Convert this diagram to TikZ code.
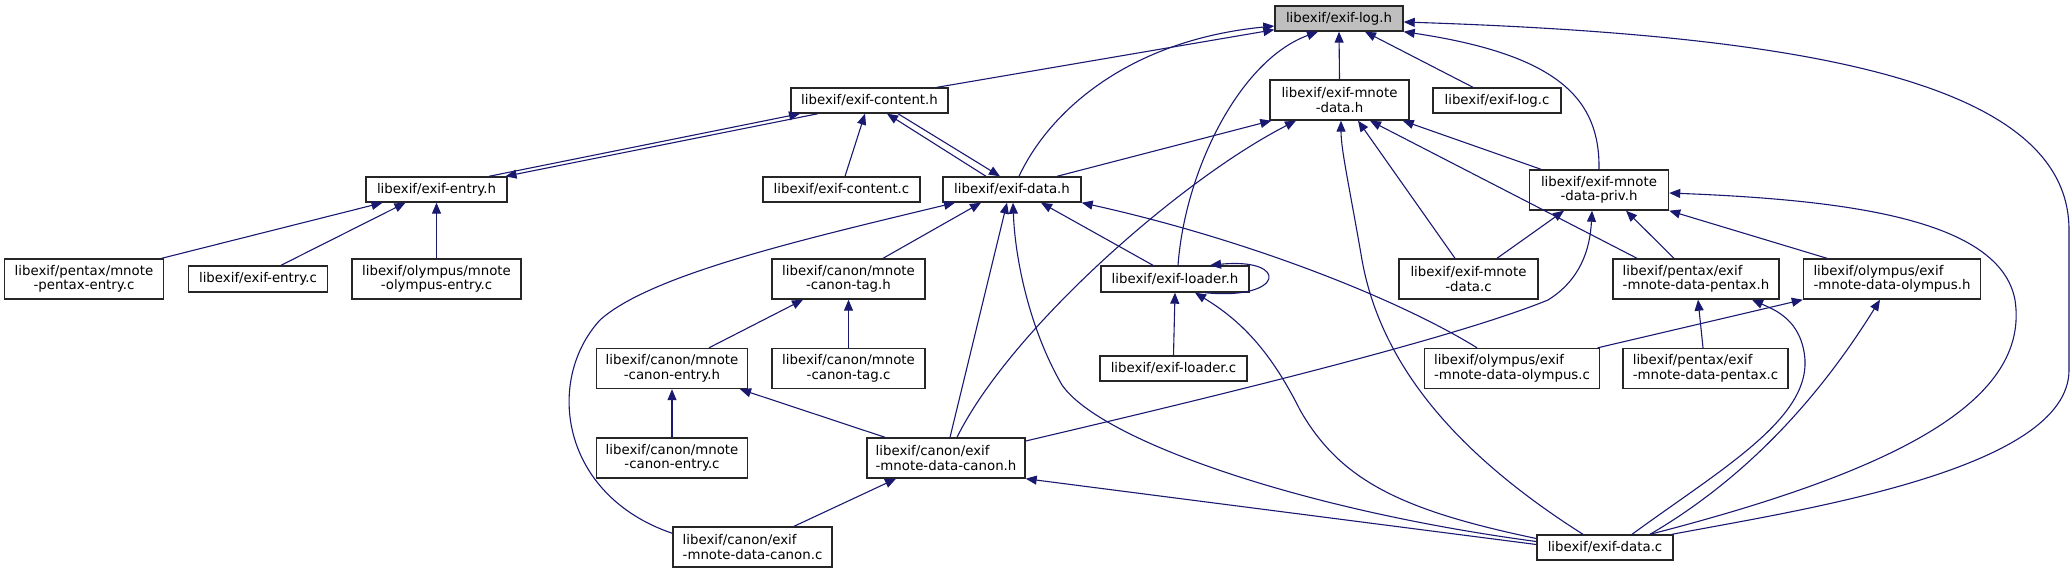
\documentclass[tikz,border=0pt]{standalone}
\usepackage{fontspec}
\setmainfont{DejaVu Sans}
\usepackage{tikz}
\usetikzlibrary{arrows.meta}

\definecolor{edgeblue}{HTML}{191970}
\definecolor{rootgray}{HTML}{BFBFBF}
\tikzset{
    file/.style={draw=black!85, fill=white, line width=1.4pt, inner sep=0pt,
        minimum height=25pt, font=\fontsize{13.33}{14.5}\selectfont},
    filec/.style={file, minimum height=40pt, align=center},
    filel/.style={file, minimum height=40pt, align=left},
    incl/.style={draw=edgeblue, line width=1.1pt, -{Triangle[length=11pt,width=9pt]}}
}

\begin{document}
\begin{tikzpicture}[x=1pt, y=-1pt]
    \useasboundingbox (0,0) rectangle (2071,573);
    \node[file, fill=rootgray, minimum width=128pt] (log_h) at (1339,18.5) {libexif/exif-log.h};
    \node[file, minimum width=157pt] (content_h) at (869.5,100.5) {libexif/exif-content.h};
    \node[filec, minimum width=139pt] (mnote_h) at (1339.5,100) {libexif/exif-mnote\\-data.h};
    \node[file, minimum width=128pt] (log_c) at (1497,100.5) {libexif/exif-log.c};
    \node[file, minimum width=141pt] (entry_h) at (436.5,189.5) {libexif/exif-entry.h};
    \node[file, minimum width=157pt] (content_c) at (841.5,189.5) {libexif/exif-content.c};
    \node[file, minimum width=138pt] (data_h) at (1012,189.5) {libexif/exif-data.h};
    \node[filec, minimum width=139pt] (priv_h) at (1599,190) {libexif/exif-mnote\\-data-priv.h};
    \node[filec, minimum width=159pt] (pentaxentry_c) at (84,279) {libexif/pentax/mnote\\-pentax-entry.c};
    \node[file, minimum width=139pt, minimum height=26pt] (entry_c) at (258,279) {libexif/exif-entry.c};
    \node[filec, minimum width=169pt] (olympusentry_c) at (436.5,279) {libexif/olympus/mnote\\-olympus-entry.c};
    \node[filec, minimum width=153pt] (canontag_h) at (848.5,279) {libexif/canon/mnote\\-canon-tag.h};
    \node[file, minimum width=148pt, minimum height=26pt] (loader_h) at (1175,279) {libexif/exif-loader.h};
    \node[filec, minimum width=139pt] (mnote_c) at (1468.5,279) {libexif/exif-mnote\\-data.c};
    \node[filel, minimum width=166pt] (pentax_h) at (1696,279) {libexif/pentax/exif\\-mnote-data-pentax.h};
    \node[filel, minimum width=177pt] (olympus_h) at (1892,279) {libexif/olympus/exif\\-mnote-data-olympus.h};
    \node[filec, minimum width=151pt] (canonentry_h) at (672,368.5) {libexif/canon/mnote\\-canon-entry.h};
    \node[filec, minimum width=153pt] (canontag_c) at (848.5,368.5) {libexif/canon/mnote\\-canon-tag.c};
    \node[file, minimum width=147pt] (loader_c) at (1173.5,368.5) {libexif/exif-loader.c};
    \node[filel, minimum width=175pt] (olympus_c) at (1512,368.5) {libexif/olympus/exif\\-mnote-data-olympus.c};
    \node[filel, minimum width=165pt] (pentax_c) at (1705.5,368.5) {libexif/pentax/exif\\-mnote-data-pentax.c};
    \node[filec, minimum width=151pt] (canonentry_c) at (672,458) {libexif/canon/mnote\\-canon-entry.c};
    \node[filel, minimum width=158pt] (canon_h) at (946,458) {libexif/canon/exif\\-mnote-data-canon.h};
    \node[filel, minimum width=159pt] (canon_c) at (752.5,547) {libexif/canon/exif\\-mnote-data-canon.c};
    \node[file, minimum width=136pt] (data_c) at (1605,547.5) {libexif/exif-data.c};

    \foreach \a/\b in {mnote_h/log_h, olympusentry_c/entry_h, canontag_c/canontag_h,
        loader_c/loader_h, canonentry_c/canonentry_h} {
        \draw[incl] (\a.north) -- (\b.south);
    }
    \draw[incl] ([xshift=67.5pt]content_h.north) -- ([yshift=2pt]log_h.south west);
    \draw[incl] ([xshift=7pt]data_h.north) .. controls (1050,110) and (1130,40) .. ([yshift=-7.5pt]log_h.west);
    \draw[incl] ([xshift=3pt]loader_h.north) .. controls (1185,170) and (1240,60) .. ([xshift=-21pt]log_h.south);
    \draw[incl] ([xshift=-24pt]log_c.north) -- ([xshift=26pt]log_h.south);
    \draw[incl] (priv_h.north) .. controls (1600,100) and (1560,55) .. (log_h.south east);
    \draw[incl] ([xshift=67pt]data_c.north) .. controls (1800,510) and (2069,470) .. (2069,370)
        -- (2069,230) .. controls (2069,80) and (1800,35) .. ([yshift=-3.5pt]log_h.east);

    \draw[incl] ([xshift=52.5pt]entry_h.north) -- ([xshift=-69.5pt]content_h.south);
    \draw[incl] ([xshift=-51.5pt]content_h.south) -- ([xshift=69pt]entry_h.north);
    \draw[incl] ([xshift=3.5pt]content_c.north) -- ([xshift=-4.5pt]content_h.south);
    \draw[incl] ([xshift=-26pt]data_h.north) -- ([xshift=17.5pt]content_h.south);
    \draw[incl] ([xshift=28.5pt]content_h.south) -- ([xshift=-12pt]data_h.north);

    \draw[incl] ([xshift=45pt]data_h.north) -- ([xshift=2pt]mnote_h.south west);
    \draw[incl] ([xshift=11pt]canon_h.north) .. controls (1010,330) and (1180,180) .. ([xshift=-43.5pt]mnote_h.south);
    \draw[incl] ([xshift=-22pt]data_c.north) .. controls (1450,450) and (1380,360) .. (1362,260)
        .. controls (1350,190) and (1341,150) .. ([xshift=1.5pt]mnote_h.south);
    \draw[incl] ([xshift=-13.5pt]mnote_c.north) -- ([xshift=18.5pt]mnote_h.south);
    \draw[incl] ([xshift=-59pt]pentax_h.north) -- ([xshift=30.5pt]mnote_h.south);
    \draw[incl] ([xshift=-58pt]priv_h.north) -- ([xshift=-7pt]mnote_h.south east);

    \draw[incl] ([xshift=-2.5pt]pentaxentry_c.north east) -- ([xshift=-54pt]entry_h.south);
    \draw[incl] ([xshift=23pt]entry_c.north) -- ([xshift=-31pt]entry_h.south);

    \draw[incl] ([yshift=-7pt]canon_c.north west) .. controls (560,495) and (545,380) .. (600,320)
        .. controls (650,275) and (800,240) .. ([xshift=-57pt]data_h.south);
    \draw[incl] ([xshift=34.5pt]canontag_h.north) -- ([xshift=-31pt]data_h.south);
    \draw[incl] ([xshift=4pt]canon_h.north) -- ([xshift=-5pt]data_h.south);
    \draw[incl] ([yshift=6pt]data_c.west) .. controls (1300,510) and (1100,440) .. (1062,385)
        .. controls (1030,330) and (1015,260) .. ([xshift=1pt]data_h.south);
    \draw[incl] ([xshift=-22pt]loader_h.north) -- ([xshift=29pt]data_h.south);
    \draw[incl] ([xshift=-35pt]olympus_c.north) .. controls (1400,300) and (1250,240) .. (data_h.south east);

    \draw[incl] ([yshift=17pt]canon_h.east) .. controls (1200,400) and (1450,340) .. (1548,300)
        .. controls (1580,280) and (1590,250) .. ([xshift=-7pt]priv_h.south);
    \draw[incl] ([xshift=28.5pt]mnote_c.north) -- ([xshift=-35pt]priv_h.south);
    \draw[incl] ([xshift=-22pt]pentax_h.north) -- ([xshift=27pt]priv_h.south);
    \draw[incl] ([xshift=-65pt]olympus_h.north) -- (priv_h.south east);
    \draw[incl] ([xshift=45pt]data_c.north) .. controls (1900,470) and (2030,400) .. (2015,300)
        .. controls (2000,220) and (1850,200) .. ([yshift=-3pt]priv_h.east);

    \draw[incl] ([xshift=37pt]canonentry_h.north) -- ([xshift=-45.5pt]canontag_h.south);
    \draw[incl] ([xshift=30pt]loader_h.south) .. controls +(80,8) and +(80,-8) .. ([xshift=35pt]loader_h.north);
    \draw[incl] ([yshift=9pt]data_c.west) .. controls (1400,510) and (1340,480) .. (1300,410)
        .. controls (1270,350) and (1240,320) .. ([xshift=20pt]loader_h.south);

    \draw[incl] ([xshift=-2.5pt]pentax_c.north) -- ([xshift=2pt]pentax_h.south);
    \draw[incl] ([xshift=27pt]data_c.north) .. controls (1720,470) and (1808,420) .. (1805,360)
        .. controls (1802,320) and (1775,310) .. ([xshift=56pt]pentax_h.south);
    \draw[incl] ([xshift=-2.5pt]olympus_c.north east) -- (olympus_h.south west);
    \draw[incl] ([xshift=45pt]data_c.north) .. controls (1760,470) and (1830,380) .. ([xshift=-12pt]olympus_h.south);

    \draw[incl] ([xshift=-61pt]canon_h.north) -- ([xshift=68pt]canonentry_h.south);
    \draw[incl] ([xshift=41.5pt]canon_c.north) -- ([xshift=-50pt]canon_h.south);
    \draw[incl] ([yshift=3pt]data_c.west) -- (canon_h.south east);
\end{tikzpicture}
\end{document}
